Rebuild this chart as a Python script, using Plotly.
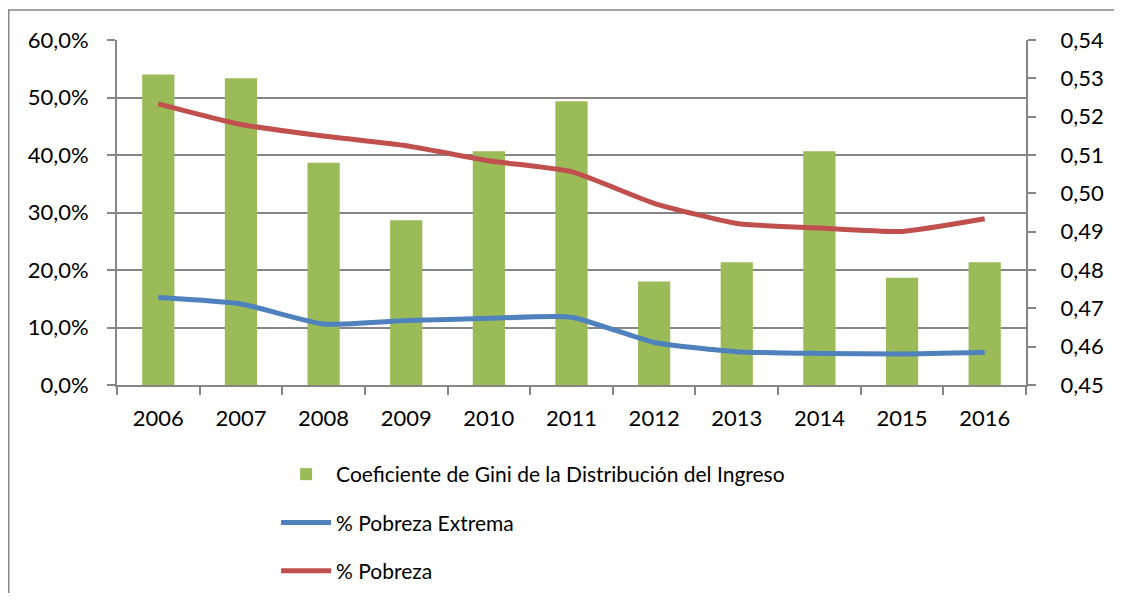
import plotly.graph_objects as go

years = ["2006", "2007", "2008", "2009", "2010", "2011", "2012", "2013", "2014", "2015", "2016"]
gini = [0.531, 0.530, 0.508, 0.493, 0.511, 0.524, 0.477, 0.482, 0.511, 0.478, 0.482]
pobreza_extrema = [0.152, 0.141, 0.106, 0.112, 0.116, 0.118, 0.074, 0.058, 0.055, 0.054, 0.057]
pobreza = [0.489, 0.453, 0.433, 0.416, 0.390, 0.371, 0.316, 0.281, 0.273, 0.267, 0.289]

font_family = "Lato, 'Open Sans', sans-serif"
grey = "#868686"

fig = go.Figure()
fig.add_trace(go.Bar(
    x=years, y=gini, name="Coeficiente de Gini de la Distribución del Ingreso",
    marker=dict(color="#9BBB59", line=dict(width=0)), yaxis="y", legendgroup="a",
))
fig.add_trace(go.Scatter(
    x=years, y=pobreza_extrema, name="% Pobreza Extrema", mode="lines",
    line=dict(color="#4F81BD", width=5, shape="spline", smoothing=0.5), yaxis="y2", legendgroup="b",
))
fig.add_trace(go.Scatter(
    x=years, y=pobreza, name="% Pobreza", mode="lines",
    line=dict(color="#C0504D", width=5, shape="spline", smoothing=0.5), yaxis="y2", legendgroup="c",
))

fig.update_layout(
    width=1106, height=585,
    margin=dict(l=109, r=88, t=32, b=208, autoexpand=False),
    paper_bgcolor="white", plot_bgcolor="white",
    separators=",.",
    bargap=0.61,
    font=dict(family=font_family, size=22, color="black"),
    xaxis=dict(
        type="category", showline=True, linecolor=grey, linewidth=2,
        ticks="outside", tickcolor=grey, ticklen=8, tickwidth=1.5,
        tickson="boundaries", showgrid=False, mirror=False,
        ticklabelstandoff=13, automargin=False,
    ),
    yaxis=dict(
        side="right", range=[0.45, 0.54], dtick=0.01, tickformat=".2f",
        showline=True, linecolor=grey, linewidth=2, ticks="outside",
        tickcolor=grey, ticklen=8, tickwidth=1.5, showgrid=False, zeroline=False,
        ticklabelstandoff=20, automargin=False,
    ),
    yaxis2=dict(
        side="left", overlaying="y", range=[0, 0.6], dtick=0.1, tickformat=".1%",
        showline=True, linecolor=grey, linewidth=2, ticks="outside",
        tickcolor=grey, ticklen=8, tickwidth=1.5, showgrid=True, gridcolor=grey,
        gridwidth=1.5, zeroline=False, automargin=False, ticklabelstandoff=14,
    ),
    legend=dict(
        orientation="v", x=0.175, y=-0.2, xanchor="left", yanchor="top",
        traceorder="grouped", tracegroupgap=18, itemwidth=50,
        font=dict(size=21), bgcolor="rgba(0,0,0,0)",
    ),
    shapes=[dict(
        type="rect", xref="paper", yref="paper",
        x0=-0.1191, x1=1.2, y0=-0.7, y1=1.087,
        line=dict(color=grey, width=1.5), fillcolor="rgba(0,0,0,0)", layer="below",
    )],
)

fig.write_html("out.html", config={"displayModeBar": False})
